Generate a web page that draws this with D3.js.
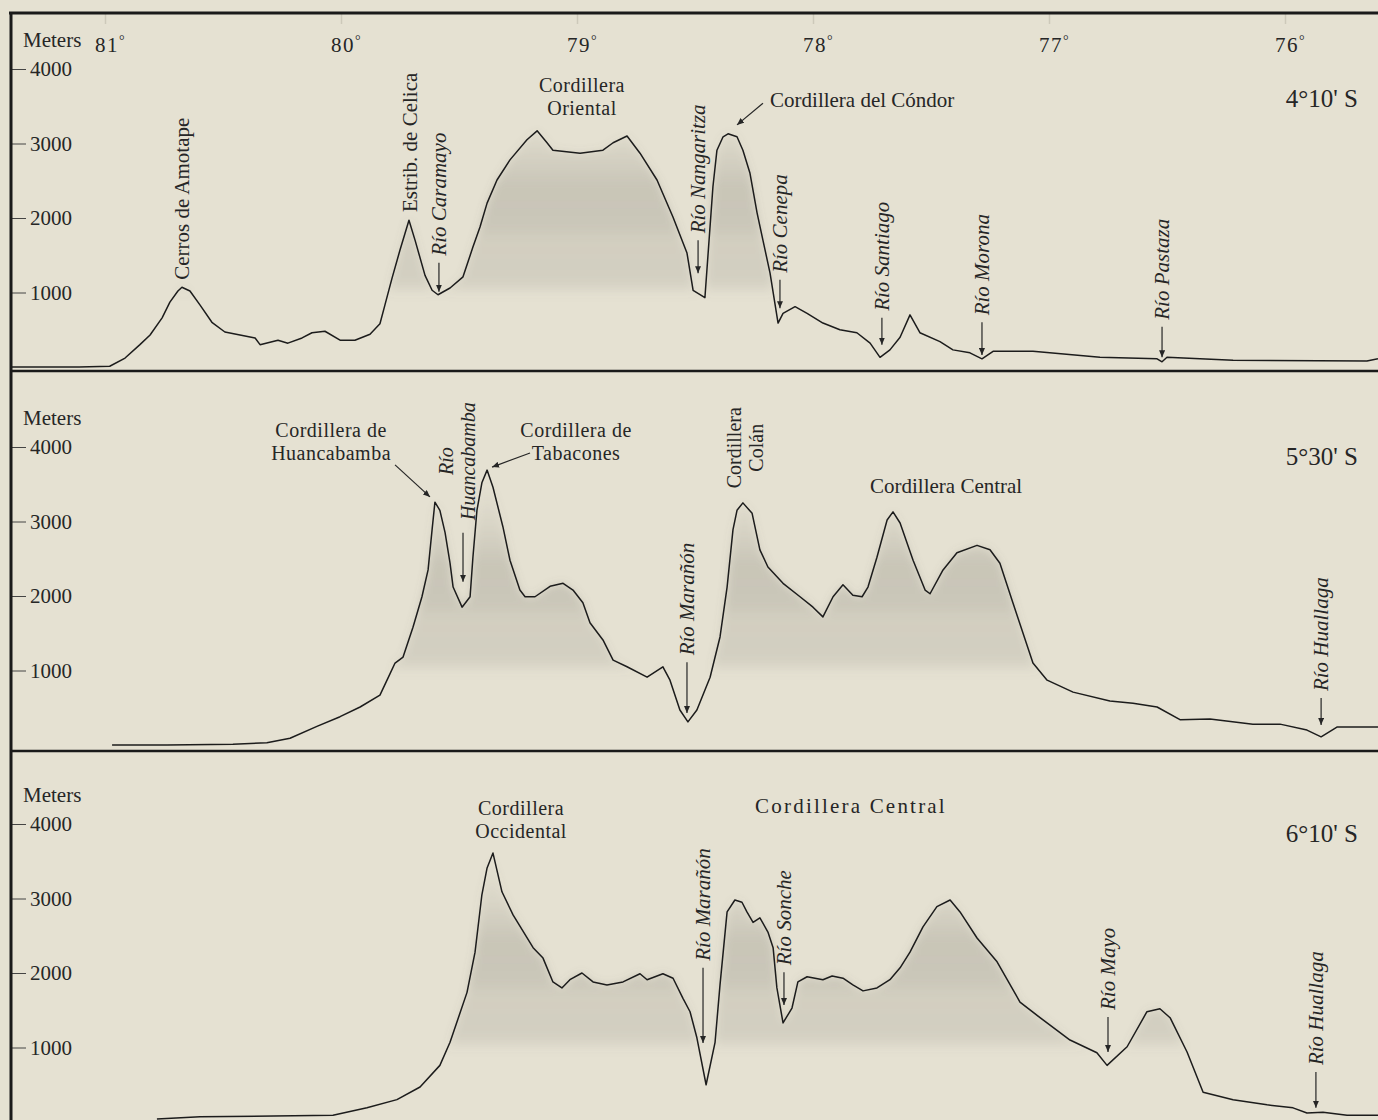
<!DOCTYPE html>
<html>
<head>
<meta charset="utf-8">
<script src="https://cdn.jsdelivr.net/npm/d3@7"></script>
<style>
	html, body {margin:0; padding:0; background:#e5e1d2;}
	svg {display:block; font-family:"Liberation Serif", "Times New Roman", serif;}
</style>
</head>
<body>
<svg id="chart" width="1378" height="1120"></svg>
<script>
// longitude (degrees W) and elevation (m)
const lonTicks = [81, 80, 79, 78, 77, 76]
const elevTicks = [1000, 2000, 3000, 4000]
const latitudes = ["4°10' S", "5°30' S", "6°10' S"]

const profile410 = [[81.40,0],[81.28,0],[81.11,0],[80.98,10],[80.915,120],[80.852,300],[80.809,430],[80.758,660],[80.725,870],[80.691,1020],[80.674,1070],[80.640,1020],[80.597,830],[80.547,600],[80.492,470],[80.428,430],[80.364,390],[80.343,300],[80.267,360],[80.225,320],[80.165,390],[80.123,460],[80.068,480],[80.004,360],[79.941,360],[79.877,440],[79.835,580],[79.814,830],[79.784,1190],[79.750,1570],[79.712,1970],[79.686,1700],[79.644,1230],[79.614,1030],[79.589,970],[79.538,1060],[79.483,1210],[79.441,1610],[79.411,1880],[79.381,2200],[79.339,2510],[79.284,2780],[79.212,3050],[79.169,3170],[79.127,3010],[79.102,2910],[78.987,2870],[78.890,2910],[78.847,3010],[78.788,3100],[78.733,2870],[78.661,2510],[78.593,2010],[78.534,1530],[78.508,1030],[78.458,930],[78.424,2420],[78.407,2910],[78.381,3090],[78.360,3130],[78.322,3090],[78.297,2910],[78.267,2600],[78.237,2070],[78.212,1700],[78.182,1260],[78.148,590],[78.127,720],[78.076,810],[78.025,720],[77.958,590],[77.886,500],[77.814,460],[77.758,320],[77.716,130],[77.674,230],[77.631,400],[77.589,700],[77.547,460],[77.462,340],[77.407,230],[77.335,190],[77.284,110],[77.237,210],[77.068,210],[76.784,130],[76.542,110],[76.521,70],[76.500,130],[76.220,90],[75.653,80],[75.606,110]]

const profile530 = [[80.97,0],[80.907,0],[80.737,0],[80.458,10],[80.314,30],[80.216,90],[80.102,250],[80.004,380],[79.919,510],[79.835,670],[79.805,870],[79.771,1100],[79.737,1180],[79.695,1580],[79.657,1990],[79.631,2350],[79.614,2890],[79.602,3260],[79.581,3150],[79.559,2850],[79.538,2440],[79.525,2120],[79.487,1850],[79.453,1990],[79.441,2520],[79.424,3150],[79.403,3520],[79.381,3690],[79.356,3460],[79.314,2930],[79.284,2480],[79.242,2080],[79.220,1990],[79.178,1990],[79.114,2130],[79.059,2170],[79.017,2080],[78.975,1910],[78.945,1640],[78.890,1410],[78.847,1140],[78.788,1050],[78.703,910],[78.636,1050],[78.606,870],[78.564,470],[78.530,310],[78.492,470],[78.436,910],[78.394,1450],[78.364,2120],[78.339,2890],[78.322,3150],[78.297,3250],[78.258,3110],[78.225,2620],[78.191,2390],[78.127,2170],[78.055,1990],[78.000,1850],[77.958,1720],[77.915,1990],[77.873,2150],[77.831,2010],[77.792,1990],[77.767,2120],[77.729,2520],[77.686,3020],[77.661,3130],[77.631,2980],[77.576,2480],[77.525,2080],[77.504,2030],[77.449,2350],[77.390,2580],[77.305,2680],[77.250,2620],[77.208,2440],[77.153,1910],[77.068,1100],[77.008,870],[76.898,710],[76.742,590],[76.644,560],[76.542,510],[76.445,340],[76.318,350],[76.136,280],[76.021,280],[75.907,200],[75.847,110],[75.780,240],[75.606,240]]

const profile610 = [[80.78,40],[80.597,70],[80.034,90],[79.890,190],[79.763,300],[79.665,470],[79.581,760],[79.538,1070],[79.466,1740],[79.432,2280],[79.403,3050],[79.381,3410],[79.356,3610],[79.318,3090],[79.271,2780],[79.186,2340],[79.144,2200],[79.102,1880],[79.064,1800],[79.030,1910],[78.979,2000],[78.932,1880],[78.873,1840],[78.805,1880],[78.733,1990],[78.703,1910],[78.636,1990],[78.593,1930],[78.551,1660],[78.521,1480],[78.492,1130],[78.453,500],[78.415,1070],[78.394,1840],[78.364,2820],[78.331,2980],[78.301,2950],[78.280,2820],[78.254,2680],[78.225,2740],[78.191,2550],[78.169,2340],[78.153,1800],[78.127,1330],[78.089,1530],[78.064,1880],[78.025,1950],[77.958,1910],[77.919,1960],[77.873,1930],[77.831,1840],[77.788,1760],[77.729,1800],[77.674,1910],[77.631,2070],[77.589,2280],[77.534,2620],[77.475,2890],[77.419,2980],[77.377,2820],[77.305,2470],[77.220,2150],[77.123,1610],[77.038,1400],[76.911,1100],[76.797,930],[76.754,760],[76.669,1010],[76.585,1480],[76.530,1520],[76.487,1400],[76.415,940],[76.347,400],[76.220,300],[76.076,230],[75.966,190],[75.907,120],[75.839,130],[75.737,90],[75.606,90]]

// rivers: arrow drawn from `from` (m) down to `to` (m) at lon, name written above it
const riverArrows = [
	{p:0, name:"Río Caramayo", lon:79.585, from:1400, to:1010},
	{p:0, name:"Río Nangaritza", lon:78.487, from:1700, to:1260},
	{p:0, name:"Río Cenepa", lon:78.140, from:1170, to:790},
	{p:0, name:"Río Santiago", lon:77.708, from:660, to:300},
	{p:0, name:"Río Morona", lon:77.284, from:600, to:160},
	{p:0, name:"Río Pastaza", lon:76.521, from:540, to:130},
	{p:1, name:"", lon:79.483, from:2850, to:2190},
	{p:1, name:"Río Marañón", lon:78.534, from:1110, to:430},
	{p:1, name:"Río Huallaga", lon:75.847, from:630, to:270},
	{p:2, name:"Río Marañón", lon:78.466, from:2070, to:1060},
	{p:2, name:"Río Sonche", lon:78.123, from:2010, to:1570},
	{p:2, name:"Río Mayo", lon:76.750, from:1410, to:940},
	{p:2, name:"Río Huallaga", lon:75.869, from:670, to:190}
]

// vertical names, anchored at (lon, m)
const verticalLabels = [
	{p:0, lines:["Cerros de Amotape"], lon:80.674, m:1170, anchor:"start"},
	{p:0, lines:["Estrib. de Celica"], lon:79.708, m:2080, anchor:"start"},
	{p:1, lines:["Río", "Huancabamba"], lon:79.508, m:3810, anchor:"middle", river:true},
	{p:1, lines:["Cordillera", "Colán"], lon:78.288, m:3990, anchor:"middle"}
]

// horizontal names, first baseline at (lon, m)
const horizontalLabels = [
	{p:0, lines:["Cordillera", "Oriental"], lon:78.979, m:3690, anchor:"middle"},
	{p:0, lines:["Cordillera del Cóndor"], lon:78.182, m:3490, anchor:"start"},
	{p:1, lines:["Cordillera de", "Huancabamba"], lon:80.042, m:4130, anchor:"middle"},
	{p:1, lines:["Cordillera de", "Tabacones"], lon:79.004, m:4130, anchor:"middle"},
	{p:1, lines:["Cordillera Central"], lon:77.436, m:3380, anchor:"middle"},
	{p:2, lines:["Cordillera", "Occidental"], lon:79.237, m:4120, anchor:"middle"},
	{p:2, lines:["Cordillera Central"], lon:77.839, m:4150, anchor:"middle"}
]

// leader arrows from a label to its peak
const pointers = [
	{p:0, from:[78.212,3540], to:[78.322,3250]},
	{p:1, from:[79.771,3760], to:[79.623,3330]},
	{p:1, from:[79.199,3920], to:[79.360,3730]}
]

const profiles = [profile410, profile530, profile610]

// ---- layout ----
const W = 1378, H = 1120,
ink = "#262626",
panelBase = [367, 745, 1122],
panelTop = [13, 371, 751],
latLabelM = [3490, 3760, 3760],
fontSize = 21,
stackSize = 20,   // two-line labels, a touch smaller so lines stay apart
stackGap = 22.5

const svg = d3.select("#chart")
const x = d3.scaleLinear().domain([81, 76]).range([105, 1285])
const ys = panelBase.map(b => d3.scaleLinear().domain([0, 4000]).range([b, b - 298]))

svg.append("rect").attr("width", W).attr("height", H).attr("fill", "#e5e1d2")

const defs = svg.append("defs")
defs.append("marker")
	.attr("id", "arrowEnd")
	.attr("viewBox", "0 -3 7 6")
	.attr("refX", 7).attr("refY", 0)
	.attr("markerUnits", "userSpaceOnUse")
	.attr("markerWidth", 7).attr("markerHeight", 6)
	.attr("orient", "auto")
	.append("path").attr("d", "M0,-3L7,0L0,3Z").attr("fill", ink)
defs.append("filter").attr("id", "soft")
	.attr("x", "-5%").attr("y", "-20%").attr("width", "110%").attr("height", "140%")
	.append("feGaussianBlur").attr("stdDeviation", 4)

// grey wash under the high ground
const shadeStops = [[3600,0],[3000,0.10],[2400,0.26],[1900,0.24],[1700,0.17],[1150,0.16],[950,0]]
ys.forEach((y, i) => {
	const g = defs.append("linearGradient").attr("id", "shade" + i)
		.attr("gradientUnits", "userSpaceOnUse")
		.attr("x1", 0).attr("x2", 0).attr("y1", y(3600)).attr("y2", y(950))
	g.selectAll("stop").data(shadeStops).enter().append("stop")
		.attr("offset", d => (3600 - d[0]) / 2650)
		.attr("stop-color", "#77756b")
		.attr("stop-opacity", d => d[1])
})

profiles.forEach((data, i) => {
	const y = ys[i],
	panel = svg.append("g").classed("panel", true)

	const area = d3.area().x(d => x(d[0])).y0(y(0)).y1(d => y(d[1]))
	panel.append("path").datum(data)
		.attr("d", area)
		.attr("fill", `url(#shade${i})`)
		.attr("filter", "url(#soft)")

	const line = d3.line().x(d => x(d[0])).y(d => y(d[1]))
	panel.append("path").datum(data)
		.attr("d", line)
		.attr("fill", "none").attr("stroke", "#1c1c1c")
		.attr("stroke-width", 1.5).attr("stroke-linejoin", "round")

	const axis = panel.append("g")
		.attr("transform", "translate(12,0)")
		.call(d3.axisRight(y).tickValues(elevTicks).tickFormat(d3.format("d")).tickSize(14).tickPadding(4))
	axis.select(".domain").remove()
	axis.attr("font-family", null).attr("font-size", fontSize)
	axis.selectAll("line").attr("stroke", "#444")
	axis.selectAll("text").attr("fill", ink)

	panel.append("text")
		.attr("x", 23).attr("y", y(4000) - 22)
		.attr("font-size", fontSize).attr("fill", ink)
		.text("Meters")

	panel.append("text")
		.attr("x", 1358).attr("y", y(latLabelM[i]))
		.attr("text-anchor", "end")
		.attr("font-size", 25).attr("fill", ink)
		.text(latitudes[i])
})

// longitude axis along the top
const lonAxis = svg.append("g")
	.attr("transform", `translate(0,${panelTop[0]})`)
	.call(d3.axisBottom(x).tickValues(lonTicks).tickSize(11).tickPadding(13))
lonAxis.select(".domain").remove()
lonAxis.attr("font-family", null).attr("font-size", fontSize)
lonAxis.selectAll("line").attr("stroke", "#cdc9ba").attr("stroke-width", 1.5)
lonAxis.selectAll("text")
	.attr("fill", ink).attr("x", 5).attr("letter-spacing", 1.5)
	.each(function(d){
		const t = d3.select(this).text(null)
		t.append("tspan").text(d)
		t.append("tspan").attr("font-size", 14).attr("dy", "-0.5em").text("°")
	})

// river arrows and names
const riverG = svg.append("g")
riverArrows.forEach(r => {
	const y = ys[r.p], rx = x(r.lon)
	riverG.append("line")
		.attr("x1", rx).attr("x2", rx)
		.attr("y1", y(r.from)).attr("y2", y(r.to))
		.attr("stroke", ink).attr("stroke-width", 1.2)
		.attr("marker-end", "url(#arrowEnd)")
	if(r.name) riverG.append("text")
		.attr("transform", `translate(${rx},${y(r.from) - 7}) rotate(-90)`)
		.attr("dy", "0.35em")
		.attr("font-size", fontSize).attr("font-style", "italic").attr("fill", ink)
		.text(r.name)
})

verticalLabels.forEach(l => {
	const n = l.lines.length,
	size = n > 1 ? stackSize : fontSize
	const t = svg.append("text")
		.attr("transform", `translate(${x(l.lon)},${ys[l.p](l.m)}) rotate(-90)`)
		.attr("text-anchor", l.anchor)
		.attr("font-size", size).attr("fill", ink)
		.attr("font-style", l.river ? "italic" : null)
	t.selectAll("tspan").data(l.lines).enter().append("tspan")
		.attr("x", 0)
		.attr("dy", (d, i) => i ? stackGap : (0.35 * size - (n - 1) * stackGap / 2))
		.text(d => d)
})

horizontalLabels.forEach(l => {
	const n = l.lines.length,
	spaced = l.p == 2 && n == 1
	const t = svg.append("text")
		.attr("x", x(l.lon)).attr("y", ys[l.p](l.m))
		.attr("text-anchor", l.anchor)
		.attr("font-size", n > 1 ? stackSize : fontSize).attr("fill", ink)
		.attr("letter-spacing", spaced ? 2.2 : (n > 1 ? 0.5 : null))
	t.selectAll("tspan").data(l.lines).enter().append("tspan")
		.attr("x", x(l.lon))
		.attr("dy", (d, i) => i ? stackGap : 0)
		.text(d => d)
})

svg.append("g").selectAll("line")
	.data(pointers)
	.enter().append("line")
	.attr("x1", d => x(d.from[0])).attr("y1", d => ys[d.p](d.from[1]))
	.attr("x2", d => x(d.to[0])).attr("y2", d => ys[d.p](d.to[1]))
	.attr("stroke", ink).attr("stroke-width", 1.2)
	.attr("marker-end", "url(#arrowEnd)")

// frame
const frame = svg.append("g").attr("stroke", "#1a1a1a")
frame.append("line").attr("x1", 9).attr("x2", W).attr("y1", panelTop[0]).attr("y2", panelTop[0]).attr("stroke-width", 3)
frame.append("line").attr("x1", 11).attr("x2", 11).attr("y1", panelTop[0]).attr("y2", H).attr("stroke-width", 3)
frame.selectAll(".sep").data(panelTop.slice(1)).enter().append("line")
	.attr("x1", 11).attr("x2", W).attr("y1", d => d).attr("y2", d => d)
	.attr("stroke-width", 2.5)
</script>
</body>
</html>
